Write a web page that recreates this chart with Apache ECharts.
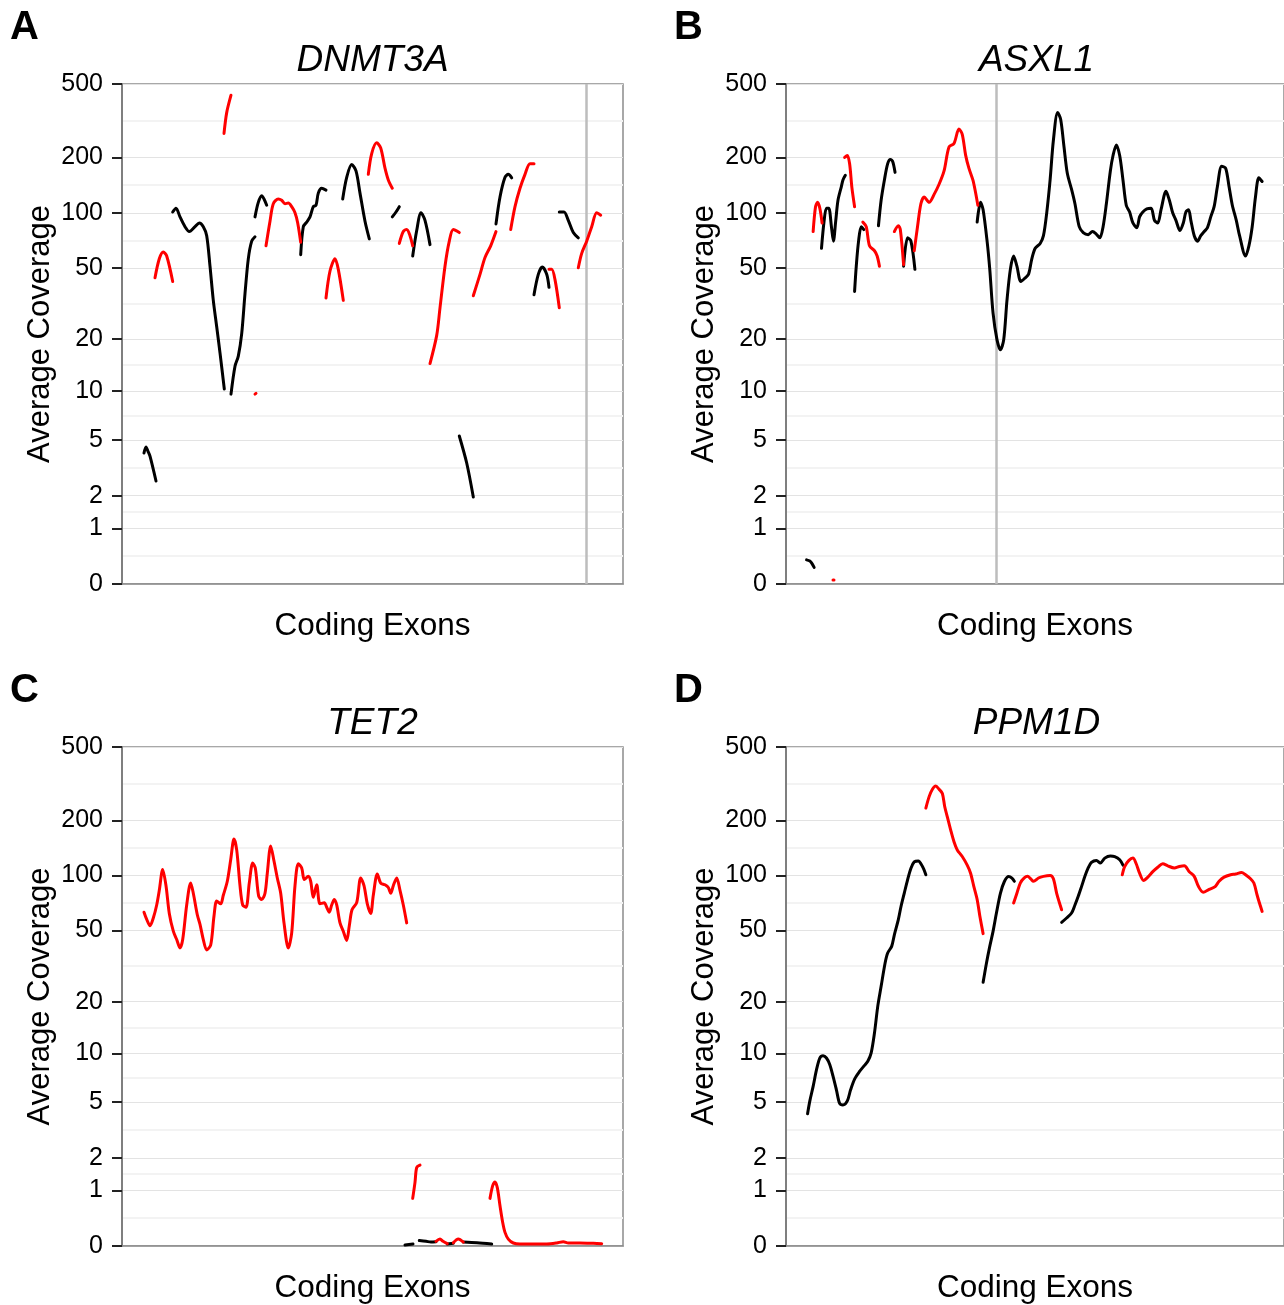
<!DOCTYPE html>
<html><head><meta charset="utf-8">
<script src="https://cdn.jsdelivr.net/npm/echarts@6/dist/echarts.min.js"></script>
<style>html,body{margin:0;padding:0;background:#fff}#c{width:1284px;height:1305px}</style>
</head><body><div id="c"></div>
<script>
// ---------------- data ----------------
const yTickValues = [0, 1, 2, 5, 10, 20, 50, 100, 200, 500];
const xAxisTitle = 'Coding Exons';
const yAxisTitle = 'Average Coverage';
const panelLetters = ['A', 'B', 'C', 'D'];
const geneNames = ['DNMT3A', 'ASXL1', 'TET2', 'PPM1D'];
// position along the concatenated coding exons (0..501), average coverage
const dnmt3aMarker = 464;
const asxl1Marker = 212;

const dnmt3aOddExons = [
  [[22,4.1],[24,4.5],[26,4.2],[28,3.9],[34,2.6]],
  [[50.7,101],[54,106],[58,95],[63,84],[67.3,79],[73,84],[77.3,88],[81.3,84],[84.7,75],[88,51],[91.3,33],[94.7,23.5],[98,16.7],[102.3,10.3]],
  [[109,9.6],[113,14],[116.3,16],[119.7,21.5],[123,36],[126.3,56],[129.7,70],[133,74]],
  [[133,95],[136.3,114],[139.7,124],[142,119],[144.7,110]],
  [[178.7,59],[181.3,84],[184.7,89],[188,95],[191.3,108],[194,110],[196.3,128],[199.7,136],[204,133]],
  [[220.7,119],[224.7,156],[229.7,183],[234,169],[238,128],[243,90],[247.3,72]],
  [[270.3,95],[274,101],[277.3,108]],
  [[290.7,58],[294.7,80],[299,100],[303,91],[308,67]],
  [[337.3,5.3],[344.7,3.5],[351.3,1.95]],
  [[374,87],[378,122],[383,156],[386.3,162],[389.7,155]],
  [[412,35.5],[416.3,46],[420.3,50.5],[424.7,46],[427,39]],
  [[437.3,101],[442,101],[446.3,91],[451.3,78],[456.3,73]]
];
const dnmt3aEvenExons = [
  [[33,44],[37.3,56],[41.3,61],[44.7,58],[50.7,42]],
  [[102,270],[104.7,350],[109,435]],
  [[133,9.6],[134,9.7]],
  [[144,66],[148,90],[151.3,112],[156.3,119],[159.7,117],[163,112],[166.3,113],[169.7,108],[173,100],[175.7,88],[178.7,69]],
  [[204,34],[208,48],[213,56],[216.3,49],[221.3,33]],
  [[246.3,162],[249.7,210],[254.7,240],[258.7,225],[263,175],[266.3,151],[270.3,136]],
  [[277.3,68],[281.3,79],[284.7,81],[288,75],[290.7,66]],
  [[308,14.5],[314.7,21],[318,30],[323,51],[327.3,70],[331.3,81],[337.3,78]],
  [[351.3,35],[358,46],[363,57],[368.7,66],[374,79]],
  [[388.7,81],[393,108],[398,136],[403,162],[408,185],[412,185]],
  [[427,49],[429.7,49],[433,43],[437.3,30]],
  [[456.3,50],[459.7,60],[464.7,70],[469.7,84],[474.7,100],[478.7,97]]
];

const asxl1OddExons = [
  [[20.7,0.35],[24,0.33],[25.7,0.3],[28.3,0.23]],
  [[35.7,64],[38.3,90],[40.7,106],[43,106],[45.7,84],[47.7,70],[50,90],[52.3,117],[55.7,139],[57.3,151],[59.7,160]],
  [[69,37],[70.7,51],[73,70],[75.7,84],[78.3,81]],
  [[93,85],[95.7,117],[99,151],[102.3,185],[105,195],[107.3,190],[109.7,166]],
  [[118.3,51],[122.3,73],[125.7,70],[129.7,49]],
  [[192.3,89],[195.7,114],[198.3,104],[202.3,70],[205,49],[208.3,28],[212.3,19.8],[215.7,17.4],[219,19.8],[222.3,33],[225.7,49],[229,58],[232.3,51],[236.3,42],[240.7,44],[244,46],[247.3,56],[250.7,64],[255.7,68],[259,75],[262.3,100],[265.7,151],[269,248],[273.3,350],[276.3,322],[279.7,228],[283,164],[287.3,134],[290.7,112],[295,84],[299,78],[304,76],[308.3,79],[311.7,77],[315.7,73],[319,84],[322.3,112],[326.3,169],[329,205],[332.3,234],[335.7,205],[339,151],[342.3,110],[345.7,101],[349,88],[353,83],[355.7,95],[359,101],[363,105],[367.3,106],[370.7,91],[374,88],[377.3,104],[382.3,131],[385.7,117],[389,100],[392.3,91],[396.3,80],[399.7,88],[402.3,101],[405,104],[407.3,91],[410.7,75],[414,70],[417.3,75],[420.7,79],[424,83],[427.3,95],[430.7,108],[434,139],[438.3,179],[442.3,175],[445.7,139],[449,110],[453,91],[456.3,75],[462.3,58],[465.7,66],[469,84],[472.3,122],[475.7,155],[479,148]]
];
const asxl1EvenExons = [
  [[47.3,0.05],[48.3,0.05]],
  [[27.3,79],[29.7,108],[31.7,114],[34,106],[36.3,88]],
  [[59,200],[61.7,205],[64,185],[66.3,137],[69,108]],
  [[77.3,89],[80.7,84],[84,66],[89,62],[91.7,58],[94,51]],
  [[109,79],[113,85],[115,81],[118.3,52]],
  [[129,62],[132.3,84],[135.7,112],[139,122],[144,114],[149,126],[154,143],[159,169],[164,228],[169,238],[174,285],[177.3,267],[180.7,206],[184,175],[188,151],[190.7,129],[193,110]]
];

const tet2OddExons = [
  [[283,0.012],[291,0.025]],
  [[297.3,0.07],[304,0.06],[309,0.05],[314,0.055]],
  [[325.3,0.025],[331.3,0.035]],
  [[341.3,0.05],[355,0.04],[369.7,0.025]]
];
const tet2EvenExons = [
  [[22,63],[24.7,57.5],[28,53],[31.3,58.5],[34.7,69],[37.3,83],[40.7,108],[44,88],[47.3,62],[51.3,49.5],[54.7,44.5],[58,40],[60.7,44.5],[64.7,69],[68.7,91],[71.3,80],[75.3,61],[78,54],[81.3,44.5],[84.7,39],[88.7,41.5],[92,60],[94.7,72.5],[98.7,70],[101.3,78],[105.3,93],[108.7,122],[112,158],[114.7,138],[118,88],[120.7,69],[124,67],[127.3,91],[130.7,117],[133.3,110],[136.7,77],[139.7,74],[143,80],[145.3,103],[148.7,145],[152,120],[155.3,97],[158.7,80],[162,55],[166.3,40],[169.7,48.5],[173,88],[176.3,116],[179.7,110],[182.3,95],[186.3,99],[188.7,93],[191.3,76],[194.7,89],[198,70],[202.3,71],[204.7,67],[207.3,63],[209.7,69],[212.3,74],[214.7,69],[218,55],[221.3,49.5],[224.7,44],[227.3,53],[230,65],[234.7,71],[238.7,97],[242,88],[245.3,70],[248.7,62],[251.3,78],[255.3,102],[258.7,91],[263,89],[266.3,86],[268.7,80],[271.3,88],[274.7,97],[278,83],[281.3,69],[284.7,55]],
  [[290.7,0.81],[293,1.21],[294.7,1.66],[298,1.74]],
  [[314,0.06],[318,0.09],[321,0.06],[325.3,0.03]],
  [[331.3,0.04],[336.3,0.09],[341.3,0.05]],
  [[368,0.81],[370.7,1.12],[373,1.22],[375.3,1.07],[378,0.65],[380.7,0.34],[383,0.185],[386.3,0.09],[391.3,0.038],[398,0.025],[424.7,0.025],[434.7,0.038],[441.3,0.055],[446.3,0.038],[458,0.038],[471.3,0.034],[479.7,0.03]]
];

const ppm1dOddExons = [
  [[21.7,4.2],[24,5.1],[27.3,6.3],[30.7,8.0],[34,9.4],[37.3,9.7],[40.7,9.4],[44,8.6],[47.3,7.3],[50.7,6.0],[54,4.9],[57.3,4.8],[61.7,5.1],[65,6.0],[69,7.0],[74,7.8],[78.3,8.4],[82.3,9.0],[85.7,10.1],[89,13.2],[92.3,18.8],[95.7,24.4],[99.7,33],[102.3,37.5],[106.3,40.8],[109,47.3],[113,57.3],[115.7,67.7],[119,80.2],[122.3,94.8],[125.7,109.7],[129,118.7],[133,120],[137.3,112],[140.7,101]],
  [[198.3,25.7],[201.7,33],[205,40.8],[208.3,49.4],[211.7,62.3],[215.7,80],[219.7,92.8],[224,98.8],[227.3,96.8],[229.7,93]],
  [[277.3,55.4],[282.3,58.5],[287.3,62.3],[290.7,69],[294,77],[297.3,87],[300.7,99],[304,110],[307.3,118],[312.3,121],[316.3,117],[320.7,124.5],[326.3,128],[330.7,127],[335.7,122],[339,114]]
];
const ppm1dEvenExons = [
  [[140.7,233],[144,269],[147.3,295],[150.7,307],[154,295],[157.3,280],[159.7,237],[162.3,209],[165.7,177],[169,153],[172.3,138],[177.3,127],[182.3,114],[185.7,103],[189,87],[192.3,74],[195,60],[198.3,48]],
  [[229,70.7],[232.3,80],[235.7,91],[239.7,97],[243,99],[246.3,95.8],[249,93],[254,97],[259,99],[265.7,100],[269,96],[272.3,80],[277.3,65]],
  [[338.3,101],[340.7,112],[345,121],[349,124.5],[352.3,116],[355.7,103],[359.7,94],[364,98],[369,105],[374,111],[379,116],[384,113],[390.7,110],[395.7,112],[400.7,113],[405.7,105],[410.7,99],[415,87],[419.7,81],[425.7,84],[431.7,87],[435.7,93],[440.7,98],[447.3,101],[452.3,102],[458.3,104],[462.3,101],[467.3,96],[470.7,91],[474,78],[476.3,70.7],[479,63.6]]
];

// ---------------- chart ----------------
const FONT = '"Liberation Sans", Arial, Helvetica, sans-serif';
const T = v => Math.log1p(v);
const Y_MAX = T(500);
const X_MAX = 501;
const majorPos = yTickValues.map(T);
const minorPos = [];
for (let i = 0; i < majorPos.length - 1; i++) minorPos.push((majorPos[i] + majorPos[i + 1]) / 2);

const panels = [
  { left: 122, top: 84, odd: dnmt3aOddExons, even: dnmt3aEvenExons, marker: dnmt3aMarker },
  { left: 786, top: 84, odd: asxl1OddExons, even: asxl1EvenExons, marker: asxl1Marker },
  { left: 122, top: 747, odd: tet2OddExons, even: tet2EvenExons, marker: null },
  { left: 786, top: 747, odd: ppm1dOddExons, even: ppm1dEvenExons, marker: null }
];
const COLORS = { odd: '#000000', even: '#ff0000' };

const grid = [], xAxis = [], yAxis = [], series = [], title = [];
panels.forEach((p, i) => {
  grid.push({ left: p.left, top: p.top, width: X_MAX, height: 500, show: true,
    borderColor: '#8c8c8c', borderWidth: 1.5, backgroundColor: 'rgba(0,0,0,0)' });
  xAxis.push({ gridIndex: i, type: 'value', min: 0, max: X_MAX,
    axisLine: { show: true, lineStyle: { color: '#8c8c8c', width: 1.5 } },
    axisTick: { show: false }, axisLabel: { show: false }, splitLine: { show: false },
    name: xAxisTitle, nameLocation: 'middle', nameGap: 26,
    nameTextStyle: { fontSize: 31.5, color: '#000', fontFamily: FONT } });
  // minor grid axis
  yAxis.push({ gridIndex: i, type: 'value', min: 0, max: Y_MAX, position: 'left',
    axisLine: { show: false }, axisLabel: { show: false },
    axisTick: { show: false, customValues: minorPos },
    splitLine: { show: true, lineStyle: { color: '#f3f3f3', width: 2 } } });
  // main axis
  yAxis.push({ gridIndex: i, type: 'value', min: 0, max: Y_MAX, position: 'left',
    axisLine: { show: true, lineStyle: { color: '#7f7f7f', width: 2 } },
    axisTick: { show: true, length: 10, customValues: majorPos, lineStyle: { color: '#222', width: 2 } },
    axisLabel: { show: true, customValues: majorPos, margin: 19, fontSize: 25, color: '#000', fontFamily: FONT,
      lineHeight: 25, padding: [4, 0, 0, 0],
      formatter: v => String(Math.round(Math.expm1(v))) },
    splitLine: { show: true, lineStyle: { color: '#e3e3e3', width: 1 } },
    name: yAxisTitle, nameLocation: 'middle', nameGap: 66,
    nameTextStyle: { fontSize: 31, color: '#000', fontFamily: FONT } });

  title.push({ text: panelLetters[i], left: p.left - 112, top: p.top - 76, padding: 0,
    textStyle: { fontSize: 40, fontWeight: 'bold', color: '#000', fontFamily: FONT } });
  title.push({ text: geneNames[i], left: p.left + X_MAX / 2, top: p.top - 42, padding: 0, textAlign: 'center',
    textStyle: { fontSize: 37, fontStyle: 'italic', fontWeight: 'normal', color: '#000', fontFamily: FONT } });

  let first = true;
  ['odd', 'even'].forEach(kind => {
    p[kind].forEach(seg => {
      const s = { type: 'line', xAxisIndex: i, yAxisIndex: 2 * i + 1,
        data: seg.map(d => [d[0], T(d[1])]),
        showSymbol: false, symbol: 'none', smooth: 0.3, silent: true, z: 5,
        lineStyle: { color: COLORS[kind], width: 3, cap: 'round', join: 'round' } };
      if (first && p.marker !== null) {
        s.markLine = { silent: true, symbol: ['none', 'none'], label: { show: false },
          lineStyle: { color: '#bdbdbd', width: 2.5, type: 'solid' },
          data: [{ xAxis: p.marker }], z: 1 };
      }
      first = false;
      series.push(s);
    });
  });
});

const chart = echarts.init(document.getElementById('c'), null, { renderer: 'canvas' });
chart.setOption({ animation: false, backgroundColor: '#fff', title, grid, xAxis, yAxis, series });
</script></body></html>
